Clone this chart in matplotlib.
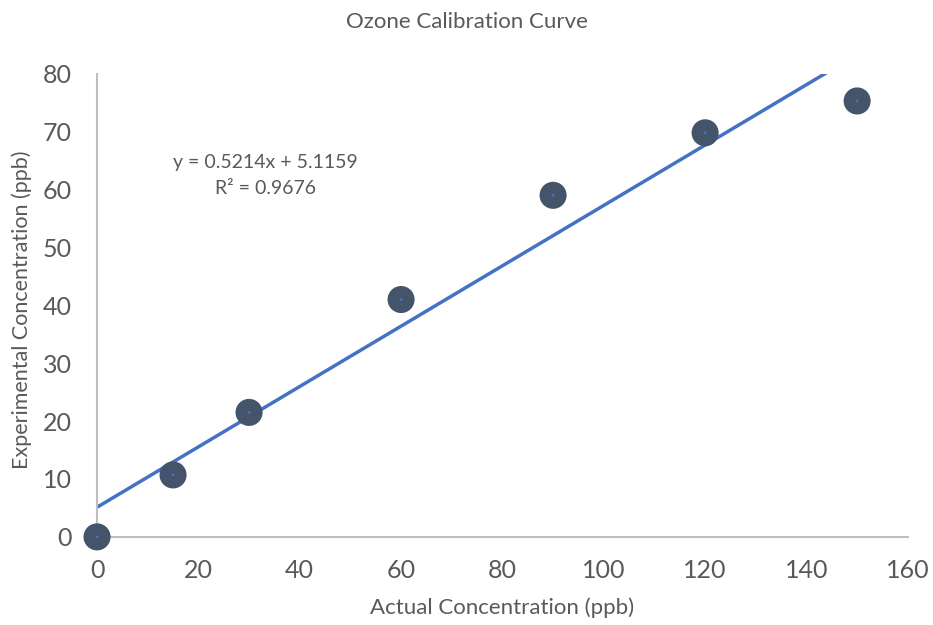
import numpy as np
import matplotlib.pyplot as plt

actual = [0, 15, 30, 60, 90, 120, 150]
experimental = [0, 10.7, 21.5, 41, 59, 69.8, 75.3]

# Trendline as reported on the chart
slope = 0.5214
intercept = 5.1159
r_squared = 0.9676

plt.rcParams['font.family'] = ['Lato', 'DejaVu Sans']
grey = '#595959'

fig = plt.figure(figsize=(9.33, 6.25), dpi=100)
ax = fig.add_axes([0.104, 0.141, 0.869, 0.741])

# trendline over the full x range, clipped by the axes
xs = np.array([0, 160])
ax.plot(xs, slope * xs + intercept, color='#4472C4', linewidth=2.5, zorder=2)

# data points
ax.scatter(actual, experimental, s=380, color='#44546A', edgecolors='none',
           zorder=3, clip_on=False)
ax.scatter(actual, experimental, s=4, color='#4472C4', edgecolors='none',
           zorder=4, clip_on=False)

ax.set_xlim(0, 160)
ax.set_ylim(0, 80)
ax.set_xticks(range(0, 161, 20))
ax.set_yticks(range(0, 81, 10))
ax.tick_params(length=0, labelsize=18, labelcolor=grey)
ax.tick_params(axis='x', pad=16)
ax.tick_params(axis='y', pad=18)

for side in ['top', 'right']:
    ax.spines[side].set_visible(False)
for side in ['left', 'bottom']:
    ax.spines[side].set_color('#BFBFBF')
    ax.spines[side].set_linewidth(1.5)

ax.text(33.3, 62.4, 'y = %.4fx + %.4f\nR² = %.4f' % (slope, intercept, r_squared),
        ha='center', va='center', fontsize=14, color=grey, linespacing=1.6)

fig.text(0.5, 0.965, 'Ozone Calibration Curve', ha='center', va='center',
         fontsize=16, color=grey)
fig.text(0.538, 0.027, 'Actual Concentration (ppb)', ha='center', va='center',
         fontsize=16, color=grey)
fig.text(0.023, 0.505, 'Experimental Concentration (ppb)', ha='center', va='center',
         rotation=90, fontsize=15.5, color=grey)

fig.savefig('out.png', dpi=100)
